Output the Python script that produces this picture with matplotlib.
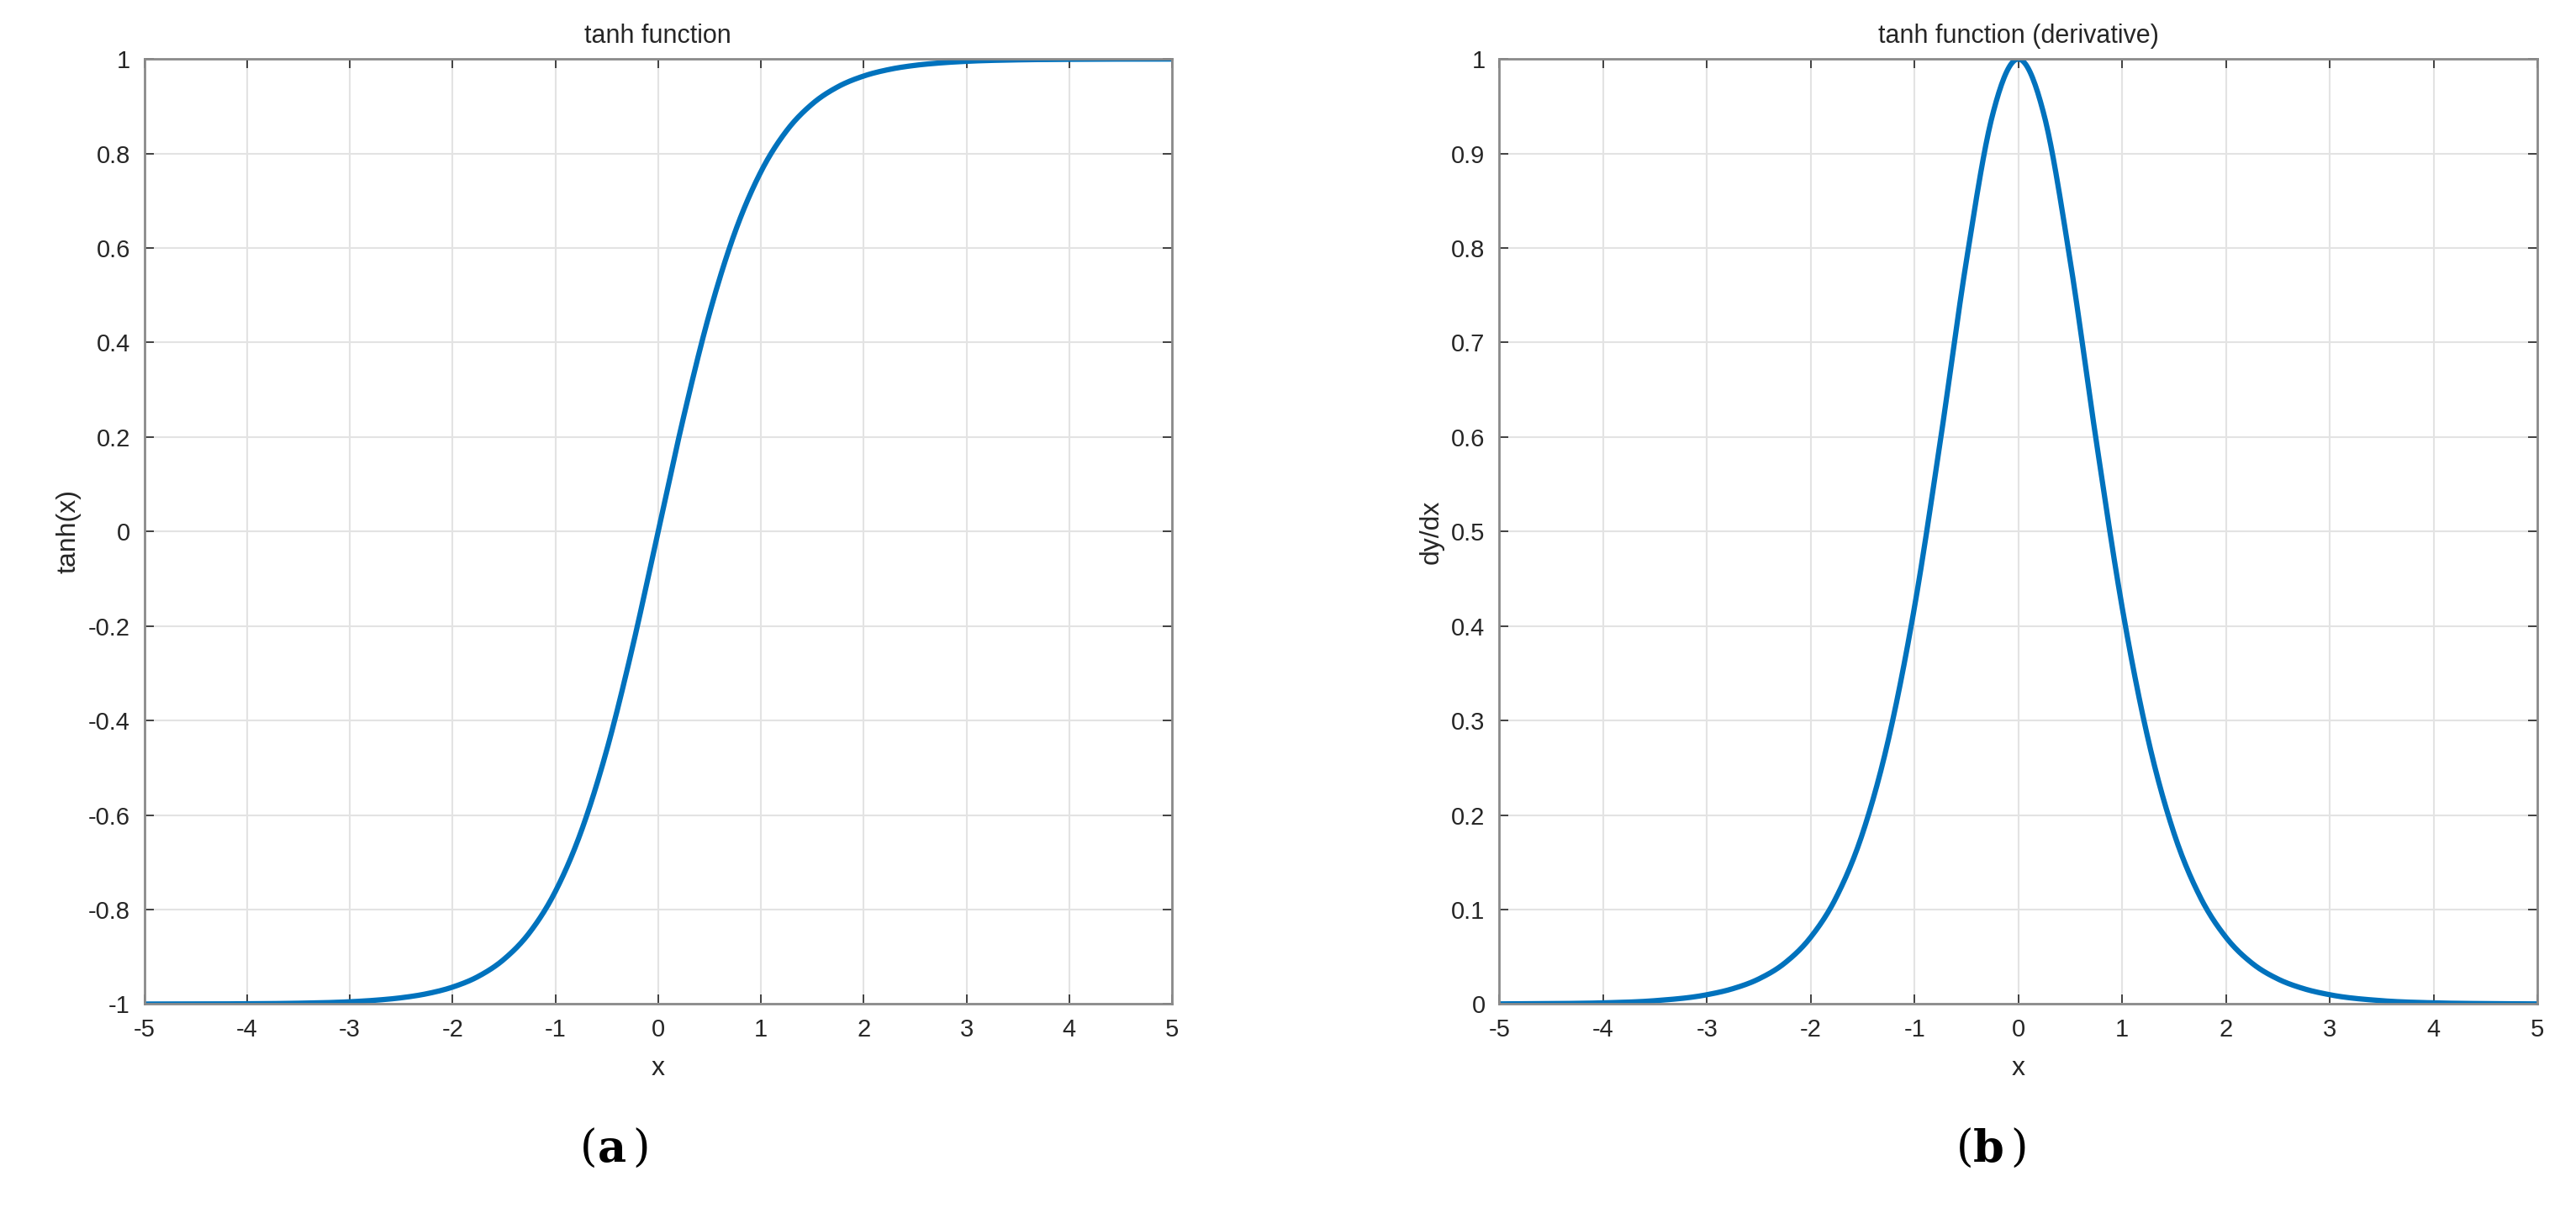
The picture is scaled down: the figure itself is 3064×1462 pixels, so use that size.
import matplotlib
matplotlib.use("Agg")
import matplotlib.pyplot as plt
import numpy as np

x_pts = [-5, -4.5, -4, -3.5, -3, -2.75, -2.5, -2.25, -2, -1.75, -1.5, -1.25, -1, -0.75, -0.5, -0.25, 0,
         0.25, 0.5, 0.75, 1, 1.25, 1.5, 1.75, 2, 2.25, 2.5, 2.75, 3, 3.5, 4, 4.5, 5]
tanh_vals = [-0.9999, -0.9998, -0.9993, -0.9982, -0.9951, -0.9918, -0.9866, -0.9780, -0.9640, -0.9414,
             -0.9051, -0.8483, -0.7616, -0.6351, -0.4621, -0.2449, 0.0,
             0.2449, 0.4621, 0.6351, 0.7616, 0.8483, 0.9051, 0.9414, 0.9640, 0.9780, 0.9866, 0.9918,
             0.9951, 0.9982, 0.9993, 0.9998, 0.9999]
deriv_vals = [0.0002, 0.0005, 0.0013, 0.0036, 0.0099, 0.0163, 0.0266, 0.0434, 0.0707, 0.1138,
              0.1807, 0.2805, 0.4200, 0.5966, 0.7864, 0.9400, 1.0,
              0.9400, 0.7864, 0.5966, 0.4200, 0.2805, 0.1807, 0.1138, 0.0707, 0.0434, 0.0266, 0.0163,
              0.0099, 0.0036, 0.0013, 0.0005, 0.0002]
x_ticks = [-5, -4, -3, -2, -1, 0, 1, 2, 3, 4, 5]
y_ticks_a = [-1, -0.8, -0.6, -0.4, -0.2, 0, 0.2, 0.4, 0.6, 0.8, 1]
y_ticks_b = [0, 0.1, 0.2, 0.3, 0.4, 0.5, 0.6, 0.7, 0.8, 0.9, 1]

plt.rcParams['font.family'] = ['Liberation Sans', 'DejaVu Sans']

xs = np.linspace(-5, 5, 801)
def smooth(xp, yp):
    # cubic Hermite curve through the read points
    xp = np.asarray(xp, float); yp = np.asarray(yp, float)
    m = np.gradient(yp, xp)
    idx = np.clip(np.searchsorted(xp, xs) - 1, 0, len(xp) - 2)
    x0, x1 = xp[idx], xp[idx + 1]; y0, y1 = yp[idx], yp[idx + 1]
    h = x1 - x0; t = (xs - x0) / h
    h00 = 2*t**3 - 3*t**2 + 1; h10 = t**3 - 2*t**2 + t
    h01 = -2*t**3 + 3*t**2; h11 = t**3 - t**2
    return h00*y0 + h10*h*m[idx] + h01*y1 + h11*h*m[idx + 1]

fig = plt.figure(figsize=(30.64, 14.62), dpi=100)
blue = "#0072BD"
fmt = lambda v: ("%g" % v)

def setup(ax, yt, ylim, title, ylabel):
    ax.set_xlim(-5, 5); ax.set_ylim(*ylim)
    ax.set_xticks(x_ticks); ax.set_yticks(yt)
    ax.set_xticklabels([fmt(v) for v in x_ticks])
    ax.set_yticklabels([fmt(v) for v in yt])
    ax.grid(True, color="#e3e3e3", linewidth=1.5)
    ax.set_axisbelow(True)
    ax.tick_params(labelsize=21, colors="#262626", direction="in", length=8, width=1.2,
                   top=True, right=True, pad=12)
    for s in ax.spines.values():
        s.set_color("#8a8a8a"); s.set_linewidth(2)
    ax.set_title(title, fontsize=22, color="#262626", pad=14)
    ax.set_xlabel("x", fontsize=23, color="#262626", labelpad=12)
    ax.set_ylabel(ylabel, fontsize=23, color="#262626", labelpad=6)

ax1 = fig.add_axes([0.056, 0.183, 0.399, 0.769])
ax1.plot(xs, smooth(x_pts, tanh_vals), color=blue, linewidth=4.5)
setup(ax1, y_ticks_a, (-1, 1), "tanh function", "tanh(x)")

ax2 = fig.add_axes([0.582, 0.183, 0.403, 0.769])
ax2.plot(xs, smooth(x_pts, deriv_vals), color=blue, linewidth=4.5)
setup(ax2, y_ticks_b, (0, 1), "tanh function (derivative)", "dy/dx")

fig.text(0.232, 0.055, "(", fontsize=38, family="DejaVu Serif", ha="right")
fig.text(0.232, 0.055, "a", fontsize=38, family="DejaVu Serif", weight="bold", ha="left")
fig.text(0.2455, 0.055, ")", fontsize=38, family="DejaVu Serif", ha="left")
fig.text(0.766, 0.055, "(", fontsize=38, family="DejaVu Serif", ha="right")
fig.text(0.766, 0.055, "b", fontsize=38, family="DejaVu Serif", weight="bold", ha="left")
fig.text(0.7805, 0.055, ")", fontsize=38, family="DejaVu Serif", ha="left")

fig.savefig("out.png", dpi=100)
